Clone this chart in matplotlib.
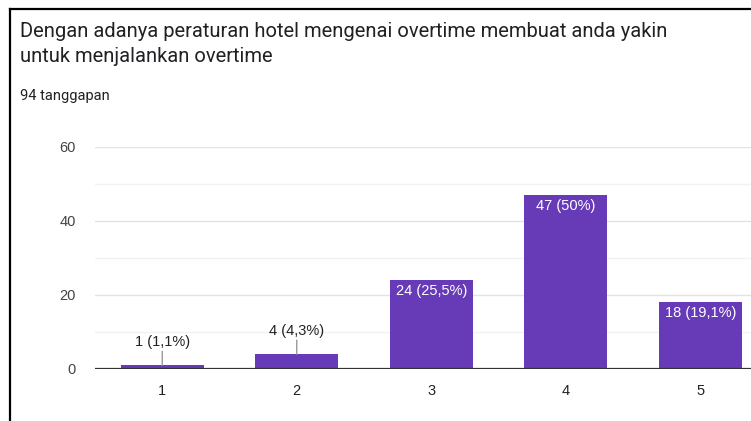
import numpy as np
import matplotlib.pyplot as plt
from matplotlib.lines import Line2D

plt.rcParams['font.family'] = ['Roboto', 'DejaVu Sans']

title_lines = ['Dengan adanya peraturan hotel mengenai overtime membuat anda yakin',
               'untuk menjalankan overtime']
subtitle = '94 tanggapan'
categories = ['1', '2', '3', '4', '5']
counts = [1, 4, 24, 47, 18]
labels = ['1 (1,1%)', '4 (4,3%)', '24 (25,5%)', '47 (50%)', '18 (19,1%)']

W, H = 751, 421
fig = plt.figure(figsize=(W / 100, H / 100), dpi=100)
arial = ['Liberation Sans', 'DejaVu Sans']

# plot area reaches past the right edge, as in the screenshot
ax = fig.add_axes([95 / W, 52 / H, 672.5 / W, 222 / H])
x = np.arange(len(categories))
ax.bar(x, counts, width=0.62, color='#673ab7', zorder=3)
ax.set_xlim(-0.5, 4.5)
ax.set_ylim(0, 60)

ax.set_yticks([0, 20, 40, 60])
ax.set_yticks([10, 30, 50], minor=True)
ax.grid(axis='y', which='major', color='#e3e3e3', lw=1, zorder=0)
ax.grid(axis='y', which='minor', color='#f2f2f2', lw=1, zorder=0)
ax.axhline(0, color='#333333', lw=1.6, zorder=4)
ax.set_xticks(x)
ax.set_xticklabels(categories)
for s in ax.spines.values():
    s.set_visible(False)
ax.tick_params(axis='both', which='both', length=0)
ax.tick_params(axis='y', pad=14, labelsize=10.5, labelcolor='#444444')
ax.tick_params(axis='x', pad=11, labelsize=10.5, labelcolor='#222222')
for t in ax.get_xticklabels() + ax.get_yticklabels():
    t.set_family(arial)

for xi, v, lab in zip(x, counts, labels):
    if v < 10:
        ax.annotate('', xy=(xi, v), xytext=(0, 14), textcoords='offset pixels',
                    arrowprops=dict(arrowstyle='-', color='#999999', lw=1,
                                    shrinkA=0, shrinkB=0), zorder=5)
        ax.annotate(lab, xy=(xi, v), xytext=(0, 16), textcoords='offset pixels',
                    ha='center', va='bottom', fontsize=10.5, color='#222222',
                    family=arial)
    else:
        ax.annotate(lab, xy=(xi, v), xytext=(0, -4), textcoords='offset pixels',
                    ha='center', va='top', fontsize=10.5, color='white', zorder=6,
                    family=arial)

fig.text(20 / W, 1 - 37 / H, title_lines[0], fontsize=14.5, color='#202124', va='baseline')
fig.text(20 / W, 1 - 62 / H, title_lines[1], fontsize=14.5, color='#202124', va='baseline')
fig.text(20 / W, 1 - 100 / H, subtitle, fontsize=10.5, color='#202124', va='baseline')

# screenshot frame
fig.add_artist(Line2D([10 / W, 1], [1 - 9 / H, 1 - 9 / H], color='black', lw=1.6))
fig.add_artist(Line2D([10 / W, 10 / W], [0, 1 - 9 / H], color='black', lw=1.6))

fig.savefig('out.png', dpi=100)
